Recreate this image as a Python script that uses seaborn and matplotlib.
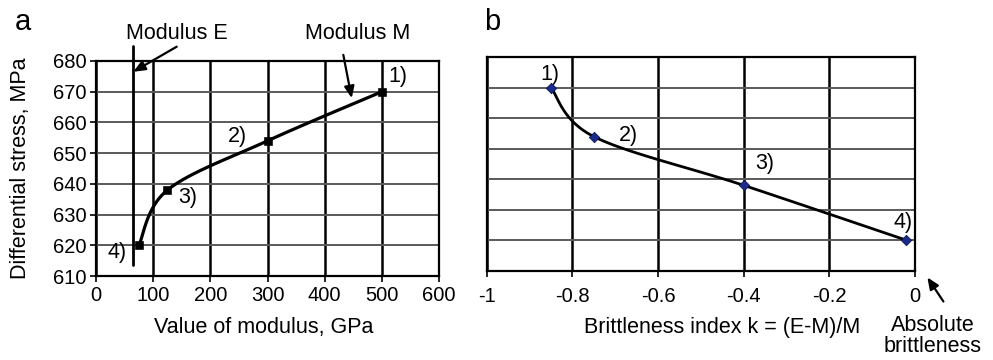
import numpy as np
import pandas as pd
import matplotlib
matplotlib.use("Agg")
import matplotlib.pyplot as plt
import seaborn as sns

# ---- data ----
point_labels = ["1)", "2)", "3)", "4)"]
modulus_M = [500, 300, 125, 75]          # GPa
stress = [670, 654, 638, 620]            # MPa
modulus_E = 64                           # GPa (vertical line)
brittleness_k = [-0.85, -0.75, -0.40, -0.02]

left_xticks = [0, 100, 200, 300, 400, 500, 600]
yticks = [610, 620, 630, 640, 650, 660, 670, 680]
right_xticks = [-1, -0.8, -0.6, -0.4, -0.2, 0]
right_xticklabels = ["-1", "-0.8", "-0.6", "-0.4", "-0.2", "0"]

sns.set_style("white")
plt.rcParams["font.family"] = ["Liberation Sans", "DejaVu Sans"]
for key in ["text.color", "axes.labelcolor", "xtick.color", "ytick.color"]:
    plt.rcParams[key] = "black"

TICK_FS = 14.5
TXT_FS = 15.5

W, H = 993, 360
fig = plt.figure(figsize=(W / 100, H / 100), dpi=100)

axL = fig.add_axes([96 / W, 1 - 276 / H, 343 / W, 215 / H])
axR = fig.add_axes([486.7 / W, 1 - 270.7 / H, 428.3 / W, 213.4 / H])


def smooth(xs, ys, xr, yr, wpx, hpx, n=40):
    """Excel-like Bezier smoothing through the given points (in pixel space)."""
    px = (np.asarray(xs, float) - xr[0]) / (xr[1] - xr[0]) * wpx
    py = (np.asarray(ys, float) - yr[0]) / (yr[1] - yr[0]) * hpx
    P = np.column_stack([px, py])
    out = []
    m = len(P)
    for i in range(m - 1):
        p0 = P[i - 1] if i > 0 else P[i]
        p1 = P[i]
        p2 = P[i + 1]
        p3 = P[i + 2] if i + 2 < m else P[i + 1]
        c1 = p1 + (p2 - p0) / 6.0
        c2 = p2 - (p3 - p1) / 6.0
        t = np.linspace(0, 1, n)[:, None]
        seg = ((1 - t) ** 3) * p1 + 3 * ((1 - t) ** 2) * t * c1 + 3 * (1 - t) * t ** 2 * c2 + t ** 3 * p2
        out.append(seg if i == 0 else seg[1:])
    S = np.vstack(out)
    sx = S[:, 0] / wpx * (xr[1] - xr[0]) + xr[0]
    sy = S[:, 1] / hpx * (yr[1] - yr[0]) + yr[0]
    return sx, sy


df = pd.DataFrame({"label": point_labels, "M": modulus_M, "stress": stress, "k": brittleness_k})
arrow = dict(arrowstyle="-|>,head_length=0.7,head_width=0.3", color="black", lw=1.6,
             shrinkA=0, shrinkB=0)

# ---------------- left panel ----------------
xrL, yr = (0, 600), (610, 680)
axL.set_xlim(*xrL)
axL.set_ylim(*yr)
sx, sy = smooth(df["M"], df["stress"], xrL, yr, 343, 215)
sns.lineplot(x=sx, y=sy, sort=False, ax=axL, color="black", lw=2.3, zorder=4)
sns.scatterplot(data=df, x="M", y="stress", ax=axL, marker="s", color="black",
                s=30, edgecolor="black", zorder=5)
axL.plot([modulus_E, modulus_E], [684.9, 613.6], color="black", lw=2, clip_on=False, zorder=4)

axL.set_xticks(left_xticks)
axL.set_yticks(yticks)
axL.tick_params(axis="both", labelsize=TICK_FS, length=4, width=1.2, color="black",
                direction="out", bottom=True, left=True, pad=3)
axL.set_xlabel("Value of modulus, GPa", fontsize=TXT_FS, va="center")
axL.xaxis.set_label_coords((263.7 - 96) / 343, -(328 - 276) / 215)
axL.set_ylabel("Differential stress, MPa", fontsize=TXT_FS, va="center")
axL.yaxis.set_label_coords((21 - 96) / 343, 0.5)
axL.xaxis.grid(True, color="black", lw=1.8)
axL.yaxis.grid(True, color="#5a5a5a", lw=1.4)
axL.set_axisbelow(True)
for sp in axL.spines.values():
    sp.set_color("black")
    sp.set_linewidth(1.6)

lbl_posL = [(528, 674.8), (246.6, 655.3), (161, 635.7), (36.7, 617.8)]
for t, (x, y) in zip(point_labels, lbl_posL):
    axL.text(x, y, t, fontsize=TXT_FS, ha="center", va="center")

axL.text(141.2, 689.1, "Modulus E", fontsize=TXT_FS, ha="center", va="center", clip_on=False)
axL.text(458.3, 689.1, "Modulus M", fontsize=TXT_FS, ha="center", va="center", clip_on=False)
axL.annotate("", xy=(65.3, 676.5), xytext=(141.2, 684.66), arrowprops=arrow, annotation_clip=False)
axL.annotate("", xy=(447.3, 667.9), xytext=(432.6, 682), arrowprops=arrow, annotation_clip=False)

fig.text(15 / W, 1 - 22 / H, "a", fontsize=21, ha="left", va="center")

# ---------------- right panel ----------------
xrR = (-1, 0)
axR.set_xlim(*xrR)
axR.set_ylim(*yr)
sx, sy = smooth(df["k"], df["stress"], xrR, yr, 428.3, 213.4)
sns.lineplot(x=sx, y=sy, sort=False, ax=axR, color="black", lw=2.0, zorder=4)
sns.scatterplot(data=df, x="k", y="stress", ax=axR, marker="D", color="#1c2a8c",
                s=28, edgecolor="#0e1650", linewidth=0.6, zorder=5)
axR.set_xticks(right_xticks)
axR.set_xticklabels(right_xticklabels)
axR.set_yticks(yticks)
axR.set_yticklabels([])
axR.set_ylabel("")
axR.tick_params(axis="x", labelsize=TICK_FS, length=4, width=1.2, color="black",
                direction="out", bottom=True, pad=8)
axR.tick_params(axis="y", length=0)
axR.set_xlabel("Brittleness index k = (E-M)/M", fontsize=TXT_FS, va="center")
axR.xaxis.set_label_coords((721.7 - 486.7) / 428.3, -(327 - 270.7) / 213.4)
axR.xaxis.grid(True, color="black", lw=1.8)
axR.yaxis.grid(True, color="#5a5a5a", lw=1.4)
axR.set_axisbelow(True)
for sp in axR.spines.values():
    sp.set_color("black")
    sp.set_linewidth(1.6)

lbl_posR = [(-0.852, 674.2), (-0.670, 654.5), (-0.350, 645.3), (-0.028, 625.7)]
for t, (x, y) in zip(point_labels, lbl_posR):
    axR.text(x, y, t, fontsize=TXT_FS, ha="center", va="center")

axR.annotate("", xy=(0.0289, 607.8), xytext=(0.0663, 599.9), arrowprops=arrow, annotation_clip=False)
axR.text(0.042, 588.6, "Absolute\nbrittleness", fontsize=TXT_FS, ha="center", va="center",
         linespacing=1.0, clip_on=False)

fig.text(484 / W, 1 - 22 / H, "b", fontsize=21, ha="left", va="center")

fig.savefig("out.png", dpi=100)
